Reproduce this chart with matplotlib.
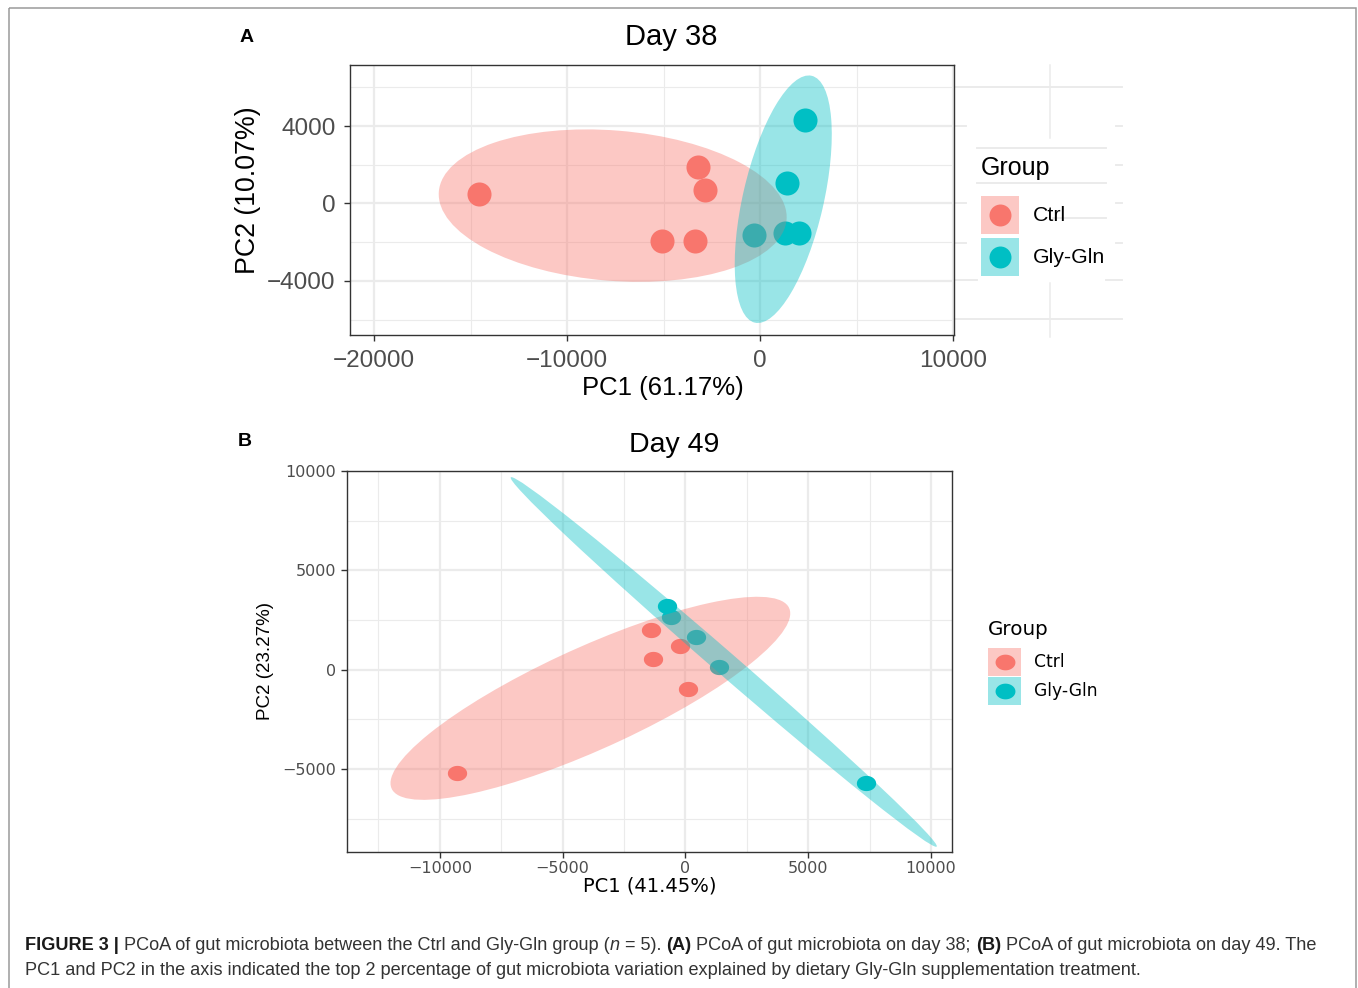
import numpy as np
import matplotlib
matplotlib.use("Agg")
from matplotlib import pyplot as plt
from matplotlib.patches import Ellipse, Rectangle
from matplotlib.ticker import FixedLocator

plt.rcParams['font.family'] = ['Liberation Sans', 'DejaVu Sans']

# ---- data ----
groups = ["Ctrl", "Gly-Gln"]
group_colors = ["#F8766D", "#00BFC4"]

# Day 38 (panel A)
d38_ctrl_pc1 = [-14560, -3210, -2860, -5110, -3360]
d38_ctrl_pc2 = [480, 1880, 720, -1940, -1940]
d38_gly_pc1 = [2300, 1390, -350, 1260, 2030]
d38_gly_pc2 = [4320, 1080, -1630, -1545, -1510]
# 95% ellipses: centre x, centre y, full width, full height, angle (deg)
d38_ctrl_ellipse = [-7640, -110, 18060, 7760, -4.6]
d38_gly_ellipse = [1190, 220, 13080, 4180, 77]

# Day 49 (panel B)
d49_ctrl_pc1 = [-9300, -1400, -1320, -240, 110]
d49_ctrl_pc2 = [-5190, 2010, 540, 1215, -980]
d49_gly_pc1 = [-760, -580, 415, 1375, 7370]
d49_gly_pc2 = [3225, 2650, 1640, 150, -5680]
d49_ctrl_ellipse = [-3870, -1440, 18580, 4920, 30]
d49_gly_ellipse = [1560, 390, 25420, 1040, -47]

W, H = 1358, 988
fig = plt.figure(figsize=(W / 100, H / 100), dpi=100)

# overlay in pixel coords for labels, legends and caption
ov = fig.add_axes([0, 0, 1, 1])
ov.set_xlim(0, W)
ov.set_ylim(H, 0)
ov.axis('off')


def px_axes(left, top, right, bottom):
    return fig.add_axes([left / W, 1 - bottom / H, (right - left) / W, (bottom - top) / H])


def style_axes(ax, xmaj, xmin, ymaj, ymin, tick_size, xpad, ypad, tick_font):
    ax.set_facecolor("white")
    ax.set_axisbelow(True)
    ax.xaxis.set_major_locator(FixedLocator(xmaj))
    ax.xaxis.set_minor_locator(FixedLocator(xmin))
    ax.yaxis.set_major_locator(FixedLocator(ymaj))
    ax.yaxis.set_minor_locator(FixedLocator(ymin))
    ax.set_xticklabels([f"{v:d}".replace("-", "\u2212") for v in xmaj], family=tick_font)
    ax.set_yticklabels([f"{v:d}".replace("-", "\u2212") for v in ymaj], family=tick_font)
    ax.grid(which='major', color="#EBEBEB", lw=1.6)
    ax.grid(which='minor', color="#EBEBEB", lw=0.8)
    ax.tick_params(which='major', length=4, width=1, color="#333333",
                   labelsize=tick_size, labelcolor="#4D4D4D")
    ax.tick_params(axis='x', pad=xpad)
    ax.tick_params(axis='y', pad=ypad)
    ax.tick_params(which='minor', length=0)
    for sp in ax.spines.values():
        sp.set_color("#333333")
        sp.set_linewidth(1.0)


def draw_panel(ax, xs, ys, ells, size, marker):
    for x, y, c in zip(xs, ys, group_colors):
        ax.scatter(x, y, s=size, color=c, marker=marker, linewidths=0, zorder=2)
    for k, (e, c) in enumerate(zip(ells, group_colors)):
        ax.add_patch(Ellipse((e[0], e[1]), e[2], e[3], angle=e[4], facecolor=c,
                             alpha=0.4, edgecolor='none', zorder=3 + k))


# ---- panel A ----
axA = px_axes(350, 65, 954, 335)
draw_panel(axA, [d38_ctrl_pc1, d38_gly_pc1], [d38_ctrl_pc2, d38_gly_pc2],
           [d38_ctrl_ellipse, d38_gly_ellipse], 300, 'o')
axA.set_xlim(-21240, 10030)
axA.set_ylim(-6790, 7150)
style_axes(axA, [-20000, -10000, 0, 10000], [-15000, -5000, 5000],
           [-4000, 0, 4000], [-6000, -2000, 2000, 6000], 17.5, 7, 6.5, 'Liberation Sans')

# ---- panel B ----
t = np.linspace(0, 2 * np.pi, 60)
oval = list(zip(np.cos(t), 0.79 * np.sin(t)))
axB = px_axes(347, 471, 952, 852)
draw_panel(axB, [d49_ctrl_pc1, d49_gly_pc1], [d49_ctrl_pc2, d49_gly_pc2],
           [d49_ctrl_ellipse, d49_gly_ellipse], 193, oval)
axB.set_xlim(-13780, 10855)
axB.set_ylim(-9175, 10000)
style_axes(axB, [-10000, -5000, 0, 5000, 10000], [-12500, -7500, -2500, 2500, 7500],
           [-5000, 0, 5000, 10000], [-7500, -2500, 2500, 7500], 11.5, 2.5, 3.6, 'DejaVu Sans')

# ---- titles, axis labels, panel letters ----
ov.text(671, 37, "Day 38", fontsize=21, ha='center', va='center')
ov.text(663, 388, "PC1 (61.17%)", fontsize=18.5, ha='center', va='center')
ov.text(248, 190, "PC2 (10.07%)", fontsize=19.3, ha='center', va='center', rotation=90)
ov.text(247, 37, "A", fontsize=14, fontweight='bold', ha='center', va='center')

ov.text(674, 445, "Day 49", fontsize=20.5, ha='center', va='center')
ov.text(650, 886, "PC1 (41.45%)", fontsize=14, family='DejaVu Sans', ha='center', va='center')
ov.text(265, 661, "PC2 (23.27%)", fontsize=13.5, ha='center', va='center', rotation=90)
ov.text(245, 441, "B", fontsize=14, fontweight='bold', ha='center', va='center')

# stray background grid fragments next to legend A
stray = [(955, 1122, 87), (955, 966, 126), (1116, 1122, 126), (977, 1106, 148),
         (1116, 1122, 165), (977, 1106, 183), (955, 966, 203), (1116, 1122, 203),
         (1053, 1106, 218), (955, 966, 243), (1116, 1122, 243), (940, 977, 280),
         (1106, 1122, 280), (955, 1122, 319)]
for x0, x1, y in stray:
    ov.plot([x0, x1], [y, y], color="#EBEBEB", lw=1.4, zorder=0)
ov.plot([1050, 1050], [65, 138], color="#EBEBEB", lw=1.1, zorder=0)
ov.plot([1050, 1050], [283, 337], color="#EBEBEB", lw=1.1, zorder=0)

# ---- legends ----
def legend(x, y_title, keys_top, key_w, key_h, gap, dot_size, marker, tsize, lsize, font, lab_x):
    ov.text(x, y_title, "Group", fontsize=tsize, family=font, ha='left', va='center')
    for i, (g, c) in enumerate(zip(groups, group_colors)):
        top = keys_top + i * (key_h + gap)
        ov.add_patch(Rectangle((x, top), key_w, key_h, facecolor=c, alpha=0.4,
                               edgecolor='none', zorder=1))
        ov.scatter(x + key_w / 2, top + key_h / 2, s=dot_size, color=c, marker=marker,
                   linewidths=0, zorder=2)
        ov.text(lab_x, top + key_h / 2, g, fontsize=lsize, family=font, ha='left', va='center')


legend(981, 168, 196, 38, 38, 4, 250, 'o', 18, 15.3, 'Liberation Sans', 1033)
legend(988, 629, 648, 33, 27.5, 1.5, 205, oval, 14.3, 12.3, 'DejaVu Sans', 1034)

# ---- outer frame ----
ov.add_patch(Rectangle((8.5, 8.5), 1347, 1000, facecolor='none', edgecolor="#9A9A9A", lw=1.1))

# ---- caption ----
fig.canvas.draw()
renderer = fig.canvas.get_renderer()
cap_size = 13.1


def text_width(s, **kw):
    tt = ov.text(0, 0, s, fontsize=cap_size, **kw)
    w = tt.get_window_extent(renderer).width
    tt.remove()
    return w


space_w = text_width("a a") - text_width("aa")


def caption_line(y, pieces):
    x = 25
    for s, weight, style in pieces:
        lead = len(s) - len(s.lstrip(" "))
        trail = len(s) - len(s.rstrip(" "))
        x += lead * space_w
        core = s.strip(" ")
        tt = ov.text(x, y, core, fontsize=cap_size, fontweight=weight, fontstyle=style,
                     color="#1a1a1a" if weight == 'bold' else "#333333", ha='left', va='center')
        x += tt.get_window_extent(renderer).width + trail * space_w


caption_line(945, [
    ("FIGURE 3 |", 'bold', 'normal'),
    (" PCoA of gut microbiota between the Ctrl and Gly-Gln group (", 'normal', 'normal'),
    ("n", 'normal', 'italic'),
    (" = 5). ", 'normal', 'normal'),
    ("(A)", 'bold', 'normal'),
    (" PCoA of gut microbiota on day 38; ", 'normal', 'normal'),
    ("(B)", 'bold', 'normal'),
    (" PCoA of gut microbiota on day 49. The", 'normal', 'normal'),
])
caption_line(970, [
    ("PC1 and PC2 in the axis indicated the top 2 percentage of gut microbiota variation "
     "explained by dietary Gly-Gln supplementation treatment.", 'normal', 'normal'),
])

fig.savefig("out.png", dpi=100)
